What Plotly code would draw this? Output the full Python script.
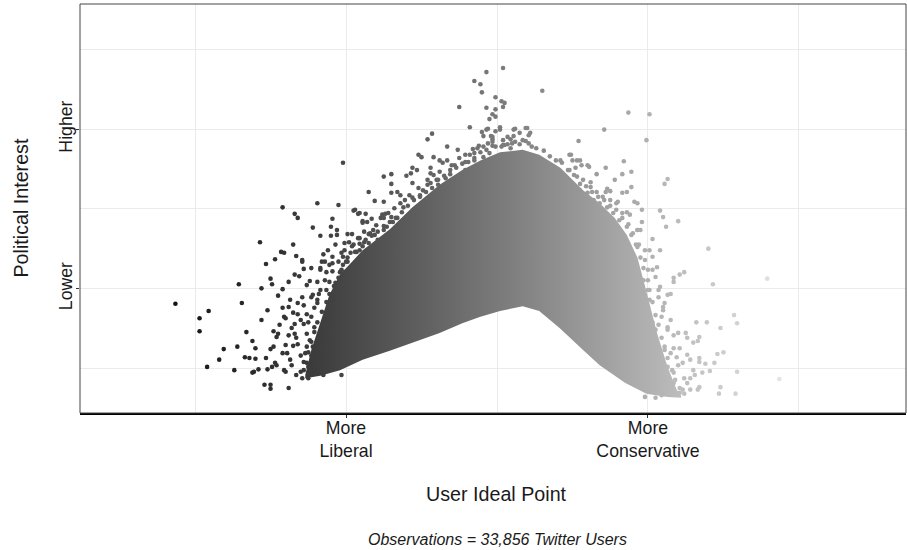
import plotly.graph_objects as go

# Twitter users: (ideal point, political interest).
# Ideal point: -1 = "More Liberal", 1 = "More Conservative".
liberal_users = [
    (-2.13, -1.17), (-1.97, -1.35), (-1.91, -1.26), (-1.97, -1.51), (-1.71, -0.93), (-1.69, -1.16), (-1.57, -0.41), (-1.42, 0.02), (-1.34, -0.06), (-1.32, -0.11),
    (-1.19, 0.07), (-1.05, 0.05), (-1.22, -0.23), (-1.09, -0.12), (-1.10, -0.22), (-1.17, -0.33), (-1.10, -0.33), (-1.35, -0.44), (-1.43, -0.53), (-1.41, -0.54),
    (-1.53, -0.68), (-1.47, -0.62), (-1.33, -0.58), (-1.29, -0.63), (-1.29, -0.65), (-1.50, -0.86), (-1.49, -0.93), (-1.56, -0.98), (-1.42, -0.99), (-1.34, -0.81),
    (-1.31, -0.83), (-1.28, -0.74), (-1.23, -0.73), (-1.26, -0.94), (-1.24, -0.89), (-1.66, -1.52), (-1.62, -1.63), (-1.60, -1.72), (-1.72, -1.70), (-1.81, -1.73),
    (-1.84, -1.86), (-1.92, -1.95), (-1.74, -1.99), (-1.67, -1.83), (-1.64, -1.84), (-1.60, -1.85), (-1.62, -2.02), (-1.61, -2.01), (-1.58, -1.98), (-1.53, -1.84),
    (-1.50, -1.73), (-1.48, -1.70), (-1.48, -1.51), (-1.46, -1.58), (-1.45, -1.54), (-1.42, -1.22), (-1.38, -1.21), (-1.41, -1.33), (-1.35, -1.28), (-1.32, -1.30),
    (-1.34, -1.42), (-1.36, -1.47), (-1.38, -1.56), (-1.34, -1.54), (-1.32, -1.67), (-1.35, -1.69), (-1.42, -1.78), (-1.39, -1.78), (-1.47, -1.90), (-1.46, -1.93),
    (-1.52, -1.98), (-1.49, -1.95), (-1.41, -1.99), (-1.40, -2.01), (-1.36, -1.93), (-1.54, -2.17), (-1.50, -2.17), (-1.50, -2.22), (-1.38, -2.21), (-1.29, -2.09),
    (-1.25, -2.09), (-1.26, -1.70), (-1.27, -1.78), (-1.26, -1.54), (-1.28, -1.19), (-1.26, -1.30), (-1.28, -1.42), (-1.23, -1.33), (-1.21, -1.22), (-1.21, -1.46),
    (-1.23, -1.09), (-1.22, -1.06), (-1.29, -1.09), (-1.18, -1.05), (-1.17, -0.75), (-1.16, -0.65), (-1.15, -0.56), (-1.12, -0.51), (-1.09, -0.59), (-1.07, -0.44),
    (-1.03, -0.54), (-1.01, -0.51), (-0.99, -0.31), (-0.96, -0.31), (-0.98, -0.41), (-0.95, -0.44), (-0.95, -0.02), (-0.92, -0.06), (-1.04, -0.78), (-1.09, -0.77),
    (-1.13, -0.78), (-1.14, -0.88), (-1.11, -0.90), (-1.07, -0.91), (-1.17, -1.00), (-1.13, -1.00), (-1.19, -1.12), (-1.19, -1.16), (-1.26, -1.90), (-1.25, -1.95),
    (-1.19, -2.02), (-1.15, -2.05), (-1.13, -1.99), (-1.11, -1.95), (-1.09, -1.86), (-1.07, -1.78), (-1.03, -2.05), (-1.22, -1.70), (-1.19, -1.78), (-1.17, -1.83),
    (-1.17, -1.58), (-1.15, -1.62), (-1.13, -1.46), (-1.12, -1.37), (-1.11, -1.28), (-1.09, -1.21), (-1.09, -1.12), (-1.06, -1.04), (-1.04, -0.96), (-1.05, -1.25),
    (-1.02, -1.12), (-1.01, -1.37), (-1.04, -1.56), (-1.07, -1.68), (-1.01, -1.00), (-0.99, -0.88), (-0.96, -0.75), (-0.93, -0.65), (-1.02, -0.69), (-0.99, -0.65),
    (-1.40, -1.35), (-1.37, -1.12), (-1.32, -1.16), (-1.30, -1.37), (-1.33, -1.59), (-1.30, -1.81), (-1.28, -1.99), (-1.33, -2.05), (-1.37, -1.86), (-1.40, -1.68),
    (-1.25, -1.40), (-1.24, -1.62), (-1.23, -1.81), (-1.21, -1.99), (-1.44, -1.43), (-1.38, -0.90), (-1.45, -1.07), (-1.52, -1.25), (-1.56, -1.37), (-1.19, -0.90),
]

moderate_left_users = [
    (-1.02, 0.57), (-0.85, 0.21), (-0.81, 0.10), (-0.87, -0.06), (-0.83, -0.12), (-0.86, -0.16), (-0.89, -0.17), (-0.77, -0.11), (-1.06, -0.32), (-0.93, -0.53),
    (-0.89, -0.46), (-0.85, -0.42), (-0.82, -0.47), (-0.84, -0.30), (-0.81, -0.32), (-1.17, -0.73), (-1.02, -0.59), (-0.97, -0.54), (-1.09, -0.67), (-1.05, -0.65),
    (-1.14, -0.65), (-1.11, -0.69), (-0.43, 0.93), (-0.46, 0.86), (-0.52, 0.67), (-0.50, 0.64), (-0.33, 0.77), (-0.33, 0.60), (-0.36, 0.57), (-0.56, 0.51),
    (-0.53, 0.48), (-0.57, 0.44), (-0.60, 0.41), (-0.44, 0.44), (-0.42, 0.42), (-0.75, 0.40), (-0.70, 0.43), (-0.70, 0.31), (-0.56, 0.32), (-0.75, 0.09),
    (-0.70, 0.20), (-0.66, 0.21), (-0.64, 0.17), (-0.58, 0.17), (-0.56, 0.14), (-0.94, -0.01), (-0.91, -0.05), (-0.64, 0.07), (-0.62, 0.02), (-0.76, -0.07),
    (-0.75, -0.11), (-0.72, -0.05), (-0.70, -0.10), (-0.69, -0.16), (-0.89, -0.15), (-0.66, -0.11), (-0.63, -0.17), (-0.60, -0.14), (-0.51, 0.17), (-0.49, 0.23),
    (-0.46, 0.30), (-0.44, 0.32), (-0.40, 0.36), (-1.06, -0.26), (-1.01, -0.42), (-0.91, -0.36), (-0.88, -0.41), (-0.85, -0.31), (-0.82, -0.26), (-0.75, -0.26),
    (-0.73, -0.22), (-0.79, -0.38), (-0.77, -0.44), (-0.91, -0.51), (-0.89, -0.59), (-0.82, -0.54), (-1.01, -0.78),
]

centre_users = [
    (0.04, 1.74), (-0.07, 1.69), (-0.15, 1.58), (-0.11, 1.54), (-0.10, 1.44), (0.30, 1.46), (-0.01, 1.38), (0.03, 1.33), (0.05, 1.31), (0.04, 1.26),
    (-0.25, 1.26), (-0.07, 1.25), (-0.01, 1.23), (-0.03, 1.17), (-0.01, 1.14), (-0.05, 1.11), (-0.18, 1.01), (-0.10, 0.95), (-0.06, 0.99), (-0.01, 0.96),
    (0.02, 1.01), (0.12, 0.99), (0.19, 1.00), (0.22, 0.94), (0.21, 0.91), (0.15, 0.94), (0.11, 0.90), (0.09, 0.86), (-0.09, 0.90), (-0.04, 0.90),
    (-0.03, 0.86), (-0.03, 0.83), (0.04, 0.85), (0.19, 0.84), (0.54, 0.84), (-0.16, 0.74), (-0.15, 0.69), (-0.12, 0.78), (-0.09, 0.77), (0.03, 0.77),
    (0.07, 0.80), (0.23, 0.77), (-0.44, 0.51), (-0.42, 0.64), (-0.38, 0.60), (0.49, 0.67), (0.53, 0.60), (0.56, 0.54), (0.61, 0.52), (0.66, 0.43),
    (-0.31, 0.48), (-0.28, 0.54), (-0.25, 0.63), (-0.21, 0.58), (-0.18, 0.67), (-0.15, 0.60), (-0.26, 0.73), (-0.34, 0.38), (-0.30, 0.33), (-0.39, 0.30),
    (-0.21, 0.48), (-0.07, 0.98), (-0.03, 0.89), (0.02, 0.98), (0.07, 0.89), (0.11, 0.98), (0.20, 1.00), (0.17, 0.85), (0.12, 0.83), (0.09, 0.75),
    (0.04, 0.79), (-0.01, 0.77), (-0.05, 0.69), (-0.09, 0.64), (0.24, 0.64), (0.28, 0.60), (0.33, 0.52), (0.37, 0.48), (0.42, 0.44), (0.46, 0.38),
    (0.50, 0.27), (0.55, 0.23), (0.60, 0.20), (0.64, 0.11), (0.68, 0.07), (0.73, 0.02), (0.77, -0.05), (0.81, -0.14), (0.86, -0.22), (0.90, -0.30),
    (0.93, -0.47), (0.44, 0.32), (0.48, 0.48), (0.53, 0.40), (0.57, 0.36), (0.62, 0.27), (0.66, 0.21), (0.70, 0.15), (0.75, 0.11), (0.79, 0.07),
    (0.83, -0.05),
]

conservative_users = [
    (0.87, 1.19), (1.01, 1.17), (0.71, 0.98), (0.99, 0.85), (0.84, 0.59), (0.89, 0.46), (0.72, 0.51), (0.60, 0.54), (0.48, 0.67), (0.50, 0.60),
    (0.55, 0.60), (0.78, 0.36), (0.89, 0.27), (0.86, 0.21), (0.83, 0.20), (0.91, 0.09), (0.93, 0.07), (0.86, -0.04), (0.96, -0.01), (0.96, -0.16),
    (0.93, -0.26), (0.94, -0.44), (0.83, 0.43), (0.73, 0.25), (0.75, 0.22),
    (1.13, 0.37), (1.11, 0.31), (1.08, -0.02), (1.10, -0.10), (1.12, -0.22), (1.20, -0.15), (0.95, -0.26), (1.03, -0.37), (1.08, -0.51), (1.40, -0.49),
    (1.24, -0.78), (1.21, -0.81), (1.17, -0.85), (1.17, -0.90), (1.43, -0.93), (1.79, -0.86), (1.15, -1.05), (1.13, -1.06), (1.11, -1.16), (1.32, -1.40),
    (1.39, -1.40), (1.57, -1.31), (1.59, -1.41), (1.48, -1.47), (1.15, -1.37), (1.13, -1.46), (1.20, -1.53), (1.17, -1.56), (1.25, -1.53), (1.26, -1.59),
    (1.34, -1.58), (1.33, -1.63), (1.30, -1.65), (1.21, -1.72), (1.50, -1.77), (1.46, -1.79), (1.34, -1.84), (1.34, -1.89), (1.26, -1.80), (1.28, -1.86),
    (1.19, -1.83), (1.23, -1.90), (1.38, -1.91), (1.44, -1.90), (1.41, -2.00), (1.36, -2.02), (1.59, -2.01), (1.30, -1.99), (1.31, -2.05), (1.28, -2.09),
    (1.34, -2.20), (1.33, -2.23), (1.48, -2.20), (1.47, -2.28), (1.58, -2.28), (1.87, -2.10), (1.26, -2.15), (1.23, -2.23), (1.21, -2.27), (1.17, -2.15),
    (1.15, -2.26), (1.11, -2.11), (1.13, -2.20), (1.09, -2.30), (1.01, -0.51), (1.03, -0.59), (1.06, -0.72), (1.05, -0.84), (1.08, -0.96), (1.07, -1.09),
    (1.10, -1.21), (1.09, -1.33), (1.11, -1.70), (1.15, -1.78), (1.13, -1.95), (1.17, -2.02), (1.16, -2.20), (0.98, -2.32), (1.05, -2.33),
    (0.98, -0.63), (1.00, -0.75), (0.97, -0.88), (1.01, -1.12), (1.00, -1.31), (1.05, -1.49), (1.03, -1.68), (1.07, -1.84), (1.08, -2.01), (1.05, -2.17),
    (1.00, -1.00), (1.03, -1.40),
]

# Users along the ragged rim of the dense bulk
rim_users = [
    (-0.99, -0.60), (-0.94, -0.53), (-0.91, -0.43), (-0.87, -0.38), (-0.83, -0.33), (-0.79, -0.28), (-0.75, -0.21), (-0.71, -0.16), (-0.67, -0.11), (-0.63, -0.04),
    (-0.59, 0.04), (-0.55, 0.11), (-0.51, 0.15), (-0.47, 0.21), (-0.43, 0.26), (-0.39, 0.36), (-0.35, 0.41), (-0.31, 0.43), (-0.27, 0.51), (-0.23, 0.56),
    (-0.19, 0.58), (-0.15, 0.63), (-0.11, 0.70), (-0.07, 0.73), (-0.03, 0.78),
    (-0.96, -0.46), (-0.92, -0.36), (-0.88, -0.28), (-0.80, -0.20), (-0.74, -0.06), (-0.68, 0.01), (-0.61, 0.11), (-0.52, 0.26), (-0.46, 0.36), (-0.38, 0.46),
    (-0.30, 0.54), (-0.21, 0.67), (-0.13, 0.75), (-0.06, 0.81),
    (0.05, 0.79), (0.10, 0.81), (0.15, 0.80), (0.21, 0.81), (0.26, 0.75), (0.31, 0.72), (0.35, 0.65), (0.39, 0.60), (0.43, 0.57), (0.47, 0.48),
    (0.51, 0.42), (0.55, 0.31), (0.59, 0.28), (0.63, 0.21), (0.67, 0.15), (0.71, 0.11), (0.75, 0.04), (0.79, -0.01), (0.83, -0.11), (0.87, -0.19),
    (0.89, -0.32), (0.92, -0.44), (0.95, -0.60), (0.97, -0.73), (1.00, -0.88), (1.01, -1.00), (1.03, -1.15), (1.05, -1.31), (1.07, -1.43), (1.09, -1.59),
    (1.11, -1.74), (1.13, -1.84), (1.16, -1.99), (1.18, -2.11), (1.21, -2.21), (1.24, -2.28),
    (0.42, 0.60), (0.52, 0.51), (0.62, 0.33), (0.72, 0.21), (0.80, 0.09), (0.88, -0.07), (0.93, -0.26), (0.98, -0.51), (1.03, -0.75), (1.07, -1.00),
    (1.10, -1.25), (1.13, -1.49), (1.17, -1.72), (1.20, -1.93), (1.24, -2.09), (1.28, -2.23),
    (-1.30, -2.01), (-1.28, -1.89), (-1.25, -1.77), (-1.23, -1.64), (-1.21, -1.52), (-1.19, -1.40), (-1.16, -1.27), (-1.13, -1.15), (-1.11, -1.05), (-1.08, -0.95),
    (-1.05, -0.85), (-1.03, -0.75), (-1.00, -0.65),
]

# Outline of the densely packed bulk of users
bulk_low_x = [-1.27, -1.17, -1.04, -0.89, -0.71, -0.56, -0.38, -0.23, -0.11, 0.02,
              0.17, 0.28, 0.42, 0.57, 0.68, 0.85, 0.99, 1.13, 1.22]
bulk_low_y = [-2.09, -2.06, -1.99, -1.86, -1.75, -1.65, -1.53, -1.41, -1.33, -1.26,
              -1.20, -1.26, -1.48, -1.74, -1.93, -2.15, -2.28, -2.32, -2.33]
bulk_high_x = [-1.27, -1.23, -1.17, -1.11, -1.04, -0.96, -0.89, -0.71, -0.56, -0.38,
               -0.23, -0.11, 0.02, 0.17, 0.28, 0.42, 0.57, 0.68, 0.78, 0.86,
               0.93, 0.99, 1.06, 1.13, 1.19, 1.22]
bulk_high_y = [-2.05, -1.74, -1.40, -1.06, -0.81, -0.65, -0.51, -0.25, 0.02, 0.30,
               0.48, 0.60, 0.70, 0.73, 0.67, 0.51, 0.23, 0.07, -0.11, -0.32,
               -0.60, -1.02, -1.53, -1.95, -2.23, -2.31]

x_ticks = [-1, 1]
x_tick_text = ["More<br>Liberal", "More<br>Conservative"]
x_minor = [-2, 0, 2]
y_ticks = [-0.985, 0.985]
y_tick_text = ["Lower", "Higher"]
y_minor = [-1.97, 0, 1.97]

caption = "Observations = 33,856 Twitter Users"

# Grey gradient interpolated in CIE L* (perceptual lightness)
LOW_GREY, HIGH_GREY = 0x14, 0xE3


def _lightness(grey):
    c = grey / 255
    y = c / 12.92 if c <= 0.04045 else ((c + 0.055) / 1.055) ** 2.4
    return 116 * y ** (1 / 3) - 16 if y > 0.008856 else 903.3 * y


def _grey(lightness):
    y = ((lightness + 16) / 116) ** 3 if lightness > 8 else lightness / 903.3
    c = 12.92 * y if y <= 0.0031308 else 1.055 * y ** (1 / 2.4) - 0.055
    return round(max(0.0, min(1.0, c)) * 255)


l_low, l_high = _lightness(LOW_GREY), _lightness(HIGH_GREY)
grey_scale = []
for i in range(21):
    t = i / 20
    g = _grey(l_low + t * (l_high - l_low))
    grey_scale.append([t, f"rgb({g},{g},{g})"])

all_users = liberal_users + moderate_left_users + centre_users + conservative_users + rim_users
ux = [p[0] for p in all_users]
uy = [p[1] for p in all_users]
cmin, cmax = min(ux), max(ux)

fig = go.Figure()

fig.add_trace(go.Scatter(
    x=bulk_low_x + bulk_high_x[::-1],
    y=bulk_low_y + bulk_high_y[::-1],
    mode="lines",
    line=dict(width=0),
    fill="toself",
    fillgradient=dict(type="horizontal", colorscale=grey_scale, start=cmin, stop=cmax),
    hoverinfo="skip",
    showlegend=False,
))

fig.add_trace(go.Scatter(
    x=ux, y=uy,
    mode="markers",
    marker=dict(size=4.6, color=ux, colorscale=grey_scale, cmin=cmin, cmax=cmax,
                line=dict(width=0), opacity=1),
    showlegend=False,
))

FONT = "Arial, 'Liberation Sans', sans-serif"
INK = "#1a1a1a"

fig.update_layout(
    width=907, height=550,
    margin=dict(l=80, r=1, t=4, b=137),
    plot_bgcolor="white", paper_bgcolor="white",
    font=dict(family=FONT, color=INK),
    showlegend=False,
    shapes=[dict(type="rect", xref="paper", yref="paper", x0=0, x1=1, y0=0, y1=1,
                 line=dict(color="#444444", width=1), layer="above")],
    annotations=[
        dict(text="User Ideal Point", xref="paper", yref="paper", x=0.5048, y=-0.197,
             showarrow=False, font=dict(size=19.7, color=INK), xanchor="center", yanchor="middle"),
        dict(text="Political Interest", xref="paper", yref="paper", x=-0.0726, y=0.5,
             showarrow=False, textangle=-90, font=dict(size=19.7, color=INK),
             xanchor="center", yanchor="middle"),
        dict(text=f"<i>{caption}</i>", xref="paper", yref="paper", x=0.5054, y=-0.309,
             showarrow=False, font=dict(size=16, color=INK), xanchor="center", yanchor="middle"),
    ],
)

fig.update_xaxes(
    range=[-2.762, 2.709],
    tickmode="array", tickvals=x_ticks, ticktext=x_tick_text,
    tickfont=dict(size=17.7, color=INK), ticklabelstandoff=-5,
    ticks="outside", ticklen=3, tickcolor="#333333", tickwidth=1,
    showgrid=True, gridcolor="#ebebeb", gridwidth=1,
    minor=dict(tickmode="array", tickvals=x_minor, showgrid=True, gridcolor="#ebebeb", gridwidth=1, ticks=""),
    showline=True, linecolor="black", linewidth=1.6,
    zeroline=False,
)
fig.update_yaxes(
    range=[-2.519, 2.531],
    tickmode="array", tickvals=y_ticks, ticktext=y_tick_text, tickangle=-90,
    tickfont=dict(size=17.7, color=INK), ticklabelstandoff=-3,
    ticks="outside", ticklen=3, tickcolor="#333333", tickwidth=1,
    showgrid=True, gridcolor="#ebebeb", gridwidth=1,
    minor=dict(tickmode="array", tickvals=y_minor, showgrid=True, gridcolor="#ebebeb", gridwidth=1, ticks=""),
    showline=False, zeroline=False,
)

fig.write_html("out.html")
